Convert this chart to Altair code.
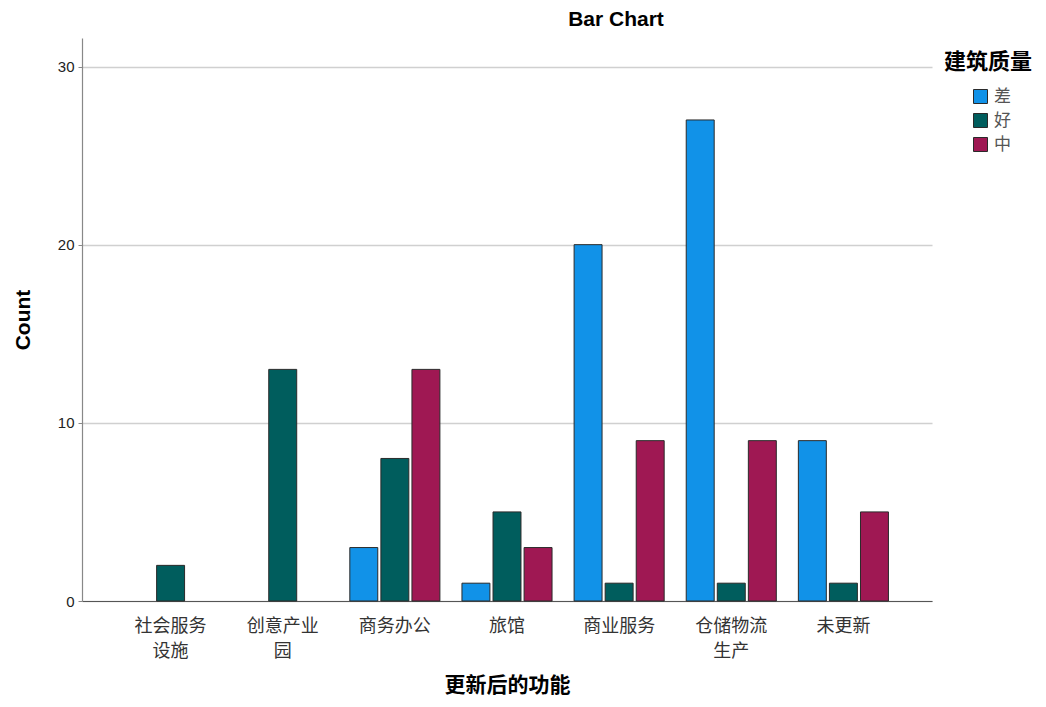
import altair as alt
import pandas as pd

categories = ["社会服务\n设施", "创意产业\n园", "商务办公", "旅馆", "商业服务", "仓储物流\n生产", "未更新"]
series = ["差", "好", "中"]
vals_cha = [0, 0, 3, 1, 20, 27, 9]
vals_hao = [2, 13, 8, 5, 1, 1, 1]
vals_zhong = [0, 0, 13, 3, 9, 9, 5]
colors = ["#1192e8", "#005d5d", "#9f1853"]

rows = []
for s, vals in zip(series, [vals_cha, vals_hao, vals_zhong]):
    for c, v in zip(categories, vals):
        rows.append({"cat": c, "q": s, "count": v})
df = pd.DataFrame(rows)

FONT = "Noto Sans CJK SC"

bars = alt.Chart(df).transform_filter("datum.count > 0").mark_bar(
    stroke="#2a2a2a", strokeWidth=1
).encode(
    x=alt.X("cat:N", sort=categories, title="更新后的功能",
            scale=alt.Scale(paddingInner=0, paddingOuter=0.29),
            axis=alt.Axis(labelAngle=0, labelExpr="split(datum.label, '\\n')",
                          labelFont=FONT, labelFontSize=18, labelColor="#333333",
                          labelLineHeight=25, labelPadding=16, ticks=False,
                          domainColor="#555555", domainWidth=1.2,
                          titleFont=FONT, titleFontSize=21, titleFontWeight="bold",
                          titleColor="#000000", titlePadding=14)),
    xOffset=alt.XOffset("q:N", sort=series,
                        scale=alt.Scale(domain=series, paddingInner=0.1, paddingOuter=0.355)),
    y=alt.Y("count:Q", title="Count",
            scale=alt.Scale(domain=[0, 31.6], nice=False),
            axis=alt.Axis(values=[0, 10, 20, 30], grid=True, gridColor="#d0d0d0",
                          gridWidth=1.5, domainColor="#888888", domainWidth=1.2,
                          tickColor="#888888", tickSize=4, labelPadding=4,
                          labelFont="Liberation Sans", labelFontSize=15, labelColor="#222222",
                          titleFont="Liberation Sans", titleFontSize=21, titleFontWeight="bold",
                          titleColor="#000000", titlePadding=24)),
    color=alt.Color("q:N", sort=series,
                    scale=alt.Scale(domain=series, range=colors),
                    legend=alt.Legend(title=None, orient="none", legendX=890, legendY=50,
                                      symbolType="square", symbolSize=196,
                                      symbolStrokeColor="#2a2a2a", symbolStrokeWidth=1,
                                      labelFont=FONT, labelFontSize=17, labelColor="#555555",
                                      rowPadding=5, labelOffset=5)),
)

legend_title = alt.Chart(pd.DataFrame({"t": ["建筑质量"]})).mark_text(
    font=FONT, fontSize=22, fontWeight="bold", align="left", baseline="middle", color="#000000"
).encode(text="t:N", x=alt.value(862), y=alt.value(24))

chart = alt.layer(bars, legend_title).properties(
    width=850, height=563,
    title=alt.TitleParams("Bar Chart", font="Liberation Sans", fontSize=21,
                          fontWeight="bold", color="#000000", dx=109, offset=8),
    autosize=alt.AutoSizeParams(type="none"),
    padding={"left": 74, "top": 30, "right": 106, "bottom": 98},
).configure_view(stroke=None)

chart.save("out.html", embed_options={"renderer": "svg", "actions": False})
